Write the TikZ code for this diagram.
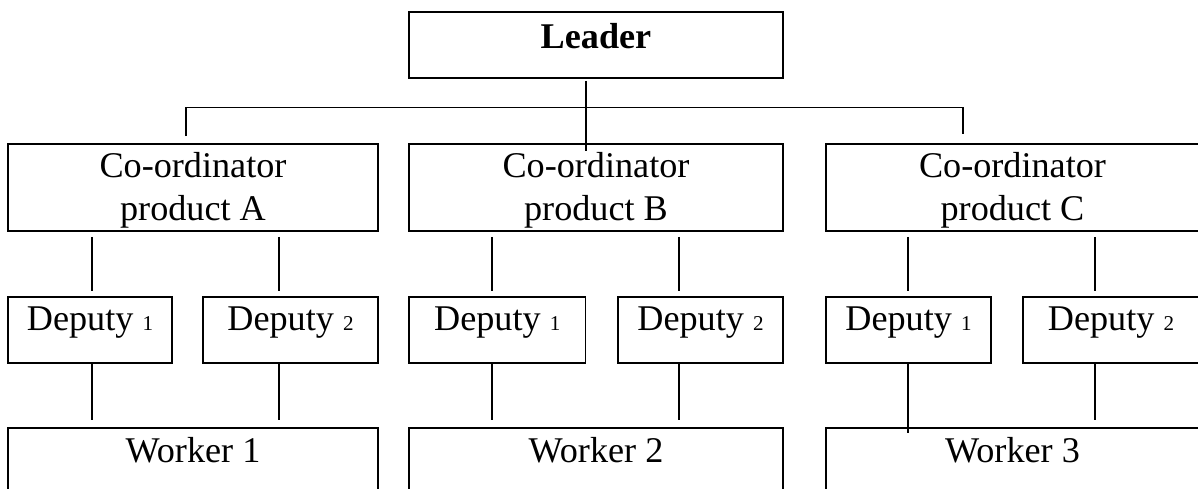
\documentclass[tikz,border=0pt]{standalone}
\usepackage{fontspec}
\setmainfont{Liberation Serif}
\usepackage{tikz}
\usetikzlibrary{positioning}
\newcommand{\subno}[1]{{\fontsize{12}{14}\selectfont #1}}

\begin{document}
\begin{tikzpicture}[x=0.02cm, y=-0.02cm,
    box/.style={draw, line width=0.95pt, inner sep=0pt, font=\fontsize{20.6}{24.4}\selectfont},
    link/.style={line width=0.7pt},
    post/.style={box, minimum height=1.74cm, align=center, text height=1.36cm, text depth=0.06cm},
    depbox/.style={box, minimum height=1.32cm, text height=0.5cm, text depth=0.5cm},
    workbox/.style={box, minimum height=1.84cm, text height=0.5cm, text depth=0.98cm}]
        \useasboundingbox (0,0) rectangle (1198,488);
        \clip (0,0) rectangle (1198,488);
        % Leader
        \node[box, minimum width=7.48cm, minimum height=1.32cm, text height=0.5cm, text depth=0.37cm,
            font=\fontsize{20.6}{24.4}\selectfont\bfseries] (ldr) at (596,45) {Leader};
        % Co-ordinators
        \node[post, minimum width=7.40cm] (crdA) at (193,187.5) {Co-ordinator\\product A};
        \node[post, minimum width=7.48cm] (crdB) at (596,187.5) {Co-ordinator\\product B};
        \node[post, minimum width=7.46cm] (crdC) at (1012.5,187.5) {Co-ordinator\\product C};
        % Deputies
        \node[depbox, minimum width=3.28cm] (dA1) at (90,330) {Deputy \subno{1}};
        \node[depbox, minimum width=3.50cm] (dA2) at (290.5,330) {Deputy \subno{2}};
        \node[depbox, minimum width=3.53cm] (dB1) at (497.25,330) {Deputy \subno{1}};
        \node[depbox, minimum width=3.30cm] (dB2) at (700.5,330) {Deputy \subno{2}};
        \node[depbox, minimum width=3.30cm] (dC1) at (908.5,330) {Deputy \subno{1}};
        \node[depbox, minimum width=3.52cm] (dC2) at (1111,330) {Deputy \subno{2}};
        % Workers
        \node[workbox, minimum width=7.40cm] (wA) at (193,474) {Worker 1};
        \node[workbox, minimum width=7.48cm] (wB) at (596,474) {Worker 2};
        \node[workbox, minimum width=7.46cm] (wC) at (1012.5,474) {Worker 3};
        % Bus from the leader
        \coordinate (xL) at (586,0);
        \coordinate (busA) at (186,107.5);
        \coordinate (busC) at (963,107.5);
        \draw[link, shorten <=0.04cm, shorten >=-0.16cm] (ldr.south -| xL) -- (crdB.north -| xL);
        \draw[link, shorten <=0.14cm, shorten >=0.18cm] (crdA.north -| busA) -- (busA) -- (busC) -- (crdC.north -| busC);
        % Vertical lines
        \foreach \nm/\xx in {A1/92, A2/279, B1/492, B2/679, C1/908, C2/1095}
            \coordinate (x\nm) at (\xx,0);
        \foreach \nm/\cr/\sh in {A1/A/0.15, A2/A/0.15, B1/B/0.15, B2/B/0.15, C1/C/-0.12, C2/C/0.15} {
            \draw[link, shorten <=0.1cm, shorten >=0.1cm] (crd\cr.south -| x\nm) -- (d\nm.north -| x\nm);
            \draw[link, shorten >=\sh cm] (d\nm.south -| x\nm) -- (w\cr.north -| x\nm);
        }
    \end{tikzpicture}
\end{document}
